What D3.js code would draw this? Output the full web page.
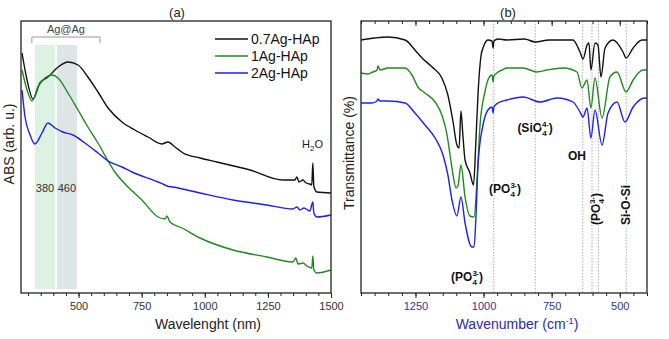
<!DOCTYPE html>
<html>
<head>
<meta charset="utf-8">
<script src="https://cdn.jsdelivr.net/npm/d3@7"></script>
<style>
body { margin: 0; background: #fff; }
svg { display: block; font-family: "Liberation Sans", Arial, sans-serif; }
</style>
</head>
<body>
<div id="chart"></div>
<script>
const width = 669, height = 339;

// (a) UV-Vis absorbance, [wavelength nm, abs arb. u.]
const uvBlack = [[276,2.40],[296,2.13],[320,1.94],[347,2.10],[379,2.16],[419,2.26],[458,2.31],[498,2.28],[537,2.16],[577,2.01],[617,1.85],[672,1.71],[723,1.63],[775,1.56],[830,1.49],[854,1.51],[882,1.46],[914,1.40],[981,1.35],[1048,1.31],[1179,1.23],[1310,1.13],[1357,1.13],[1365,1.16],[1373,1.11],[1389,1.13],[1401,1.10],[1416,1.09],[1424,1.08],[1428,1.30],[1432,1.07],[1444,1.01],[1500,1.00]];
const uvGreen = [[276,2.23],[296,2.03],[316,1.92],[339,2.06],[367,2.15],[395,2.18],[419,2.15],[458,2.00],[498,1.83],[537,1.66],[577,1.50],[617,1.32],[644,1.21],[696,1.06],[751,0.93],[815,0.76],[842,0.74],[850,0.77],[862,0.71],[910,0.65],[981,0.55],[1112,0.43],[1246,0.36],[1349,0.31],[1361,0.35],[1369,0.29],[1389,0.30],[1405,0.27],[1424,0.25],[1428,0.37],[1432,0.23],[1444,0.20],[1500,0.23]];
const uvBlue = [[276,2.03],[288,1.76],[308,1.58],[327,1.49],[355,1.60],[379,1.70],[407,1.65],[438,1.61],[478,1.58],[525,1.50],[577,1.40],[617,1.32],[672,1.26],[712,1.21],[815,1.11],[842,1.08],[850,1.07],[874,1.06],[981,1.00],[1112,0.93],[1246,0.88],[1349,0.84],[1365,0.86],[1377,0.83],[1393,0.85],[1416,0.82],[1428,0.91],[1432,0.80],[1444,0.76],[1500,0.78]];

// (b) FTIR transmittance, [wavenumber cm-1, T arb.]
const irBlack = [[1450,2.53],[1399,2.55],[1351,2.56],[1288,2.53],[1252,2.43],[1226,2.35],[1189,2.26],[1153,2.15],[1131,1.98],[1112,1.71],[1098,1.48],[1090,1.45],[1083,1.82],[1076,1.58],[1068,1.33],[1050,1.20],[1037,1.08],[1028,1.53],[1020,2.01],[1009,2.38],[1002,2.45],[984,2.53],[969,2.52],[965,2.45],[962,2.52],[947,2.54],[914,2.53],[850,2.54],[810,2.51],[760,2.53],[672,2.53],[646,2.41],[635,2.34],[620,2.48],[613,2.50],[606,2.23],[591,2.50],[580,2.48],[569,2.16],[554,2.45],[525,2.53],[488,2.41],[477,2.35],[451,2.45],[418,2.53],[400,2.53]];
const irGreen = [[1450,2.20],[1424,2.19],[1406,2.21],[1391,2.23],[1388,2.27],[1380,2.23],[1351,2.25],[1288,2.25],[1263,2.18],[1241,2.06],[1215,2.00],[1178,1.91],[1153,1.78],[1134,1.58],[1123,1.38],[1112,1.18],[1101,1.05],[1094,1.07],[1083,1.28],[1068,0.96],[1050,0.77],[1035,0.76],[1024,1.13],[1013,1.68],[995,2.01],[984,2.13],[969,2.18],[965,2.11],[962,2.17],[951,2.20],[932,2.23],[914,2.25],[855,2.25],[804,2.21],[767,2.23],[708,2.25],[657,2.21],[639,2.05],[620,2.13],[606,1.85],[591,2.15],[565,1.75],[536,2.16],[510,2.21],[477,2.01],[451,2.13],[415,2.23],[400,2.23]];
const irBlue = [[1450,1.90],[1410,1.90],[1391,1.92],[1388,1.94],[1380,1.92],[1351,1.92],[1288,1.90],[1252,1.80],[1215,1.68],[1178,1.55],[1149,1.38],[1131,1.18],[1116,0.93],[1098,0.77],[1083,0.96],[1068,0.70],[1043,0.46],[1035,0.46],[1028,0.76],[1020,1.30],[1002,1.68],[984,1.83],[969,1.86],[965,1.80],[962,1.86],[947,1.90],[914,1.93],[855,1.96],[793,1.91],[730,1.95],[672,1.91],[646,1.81],[635,1.76],[620,1.85],[606,1.55],[591,1.83],[565,1.48],[543,1.80],[510,1.91],[481,1.71],[451,1.86],[407,1.95],[400,1.95]];

const seriesNames = ["0.7Ag-HAp", "1Ag-HAp", "2Ag-HAp"];
const seriesColors = ["#111111", "#1f8a1f", "#1f1ff5"];

const uvMajor = [500, 750, 1000, 1250, 1500];
const irMajor = [1250, 1000, 750, 500];
const irBands = [963, 810, 636, 602, 578, 476];
const agBands = [[327, 407, "380", "#dcf2e3"], [414, 494, "460", "#dde5e5"]];

const svg = d3.select("#chart").append("svg")
	.attr("width", width)
	.attr("height", height);

const plotTop = 21, plotBottom = 293;

function frameAndAxes(x, major, left, right, labelColor, topTicks) {
	const minor = d3.range(Math.ceil(d3.min(x.domain()) / 50) * 50, d3.max(x.domain()) + 1, 50);
	const g = svg.append("g");
	g.append("g")
		.attr("transform", `translate(0,${plotBottom})`)
		.call(d3.axisBottom(x).tickValues(minor).tickSize(3).tickFormat(""))
		.call(a => a.select(".domain").remove());
	g.append("g")
		.attr("transform", `translate(0,${plotBottom})`)
		.call(d3.axisBottom(x).tickValues(major).tickSize(5).tickPadding(4).tickFormat(d3.format("d")))
		.call(a => a.select(".domain").remove())
		.call(a => a.selectAll("text").attr("font-size", 11).attr("fill", labelColor));
	if (topTicks) {
		g.append("g")
			.attr("transform", `translate(0,${plotTop})`)
			.call(d3.axisBottom(x).tickValues(minor).tickSize(3).tickFormat(""))
			.call(a => a.select(".domain").remove());
		g.append("g")
			.attr("transform", `translate(0,${plotTop})`)
			.call(d3.axisBottom(x).tickValues(major).tickSize(5).tickFormat(""))
			.call(a => a.select(".domain").remove());
	}
	g.selectAll("line").attr("stroke", "#222");
	g.append("rect")
		.attr("x", left).attr("y", plotTop)
		.attr("width", right - left).attr("height", plotBottom - plotTop)
		.attr("fill", "none").attr("stroke", "#222").attr("stroke-width", 1.3);
}

// ---------- panel (a)
const xa = d3.scaleLinear().domain([272, 1500]).range([21, 331]);
const ya = d3.scaleLinear().domain([0, 2.72]).range([plotBottom, plotTop]);

svg.append("g").selectAll("rect")
	.data(agBands)
	.join("rect")
	.attr("x", d => xa(d[0]))
	.attr("width", d => xa(d[1]) - xa(d[0]))
	.attr("y", 45)
	.attr("height", 289 - 45)
	.attr("fill", d => d[3]);
svg.append("g").selectAll("text")
	.data(agBands)
	.join("text")
	.attr("x", d => (xa(d[0]) + xa(d[1])) / 2)
	.attr("y", 192)
	.attr("text-anchor", "middle")
	.attr("font-size", 11)
	.attr("fill", "#333")
	.text(d => d[2]);

// Ag@Ag bracket
svg.append("path")
	.attr("d", `M${xa(315)},43V37H${xa(585)}V43`)
	.attr("fill", "none").attr("stroke", "#999").attr("stroke-width", 1);
svg.append("text")
	.attr("x", xa(450)).attr("y", 33)
	.attr("text-anchor", "middle").attr("font-size", 11).attr("fill", "#444")
	.text("Ag@Ag");

const lineA = d3.line().x(d => xa(d[0])).y(d => ya(d[1])).curve(d3.curveMonotoneX);
svg.append("g").selectAll("path")
	.data([uvBlack, uvGreen, uvBlue])
	.join("path")
	.attr("d", lineA)
	.attr("fill", "none")
	.attr("stroke", (d, i) => seriesColors[i])
	.attr("stroke-width", 1.4);

frameAndAxes(xa, uvMajor, 21, 331, "#333", false);

// legend
const leg = svg.append("g").selectAll("g")
	.data(seriesNames)
	.join("g")
	.attr("transform", (d, i) => `translate(215,${39 + i * 17})`);
leg.append("line").attr("x2", 33).attr("stroke", (d, i) => seriesColors[i]).attr("stroke-width", 1.6);
leg.append("text").attr("x", 36).attr("dy", "0.35em").attr("font-size", 14).attr("fill", "#111").text(d => d);

const h2o = svg.append("text").attr("x", 302).attr("y", 148).attr("font-size", 11).attr("fill", "#222");
h2o.append("tspan").text("H");
h2o.append("tspan").attr("font-size", 8).attr("dy", 3).text("2");
h2o.append("tspan").attr("dy", -3).text("O");

svg.append("text").attr("x", 177).attr("y", 17).attr("text-anchor", "middle").attr("font-size", 13).attr("fill", "#222").text("(a)");
svg.append("text").attr("x", 208).attr("y", 329).attr("text-anchor", "middle").attr("font-size", 14).attr("fill", "#222").text("Wavelenght (nm)");
svg.append("text").attr("transform", "translate(14,144) rotate(-90)").attr("text-anchor", "middle").attr("font-size", 14).attr("fill", "#222").text("ABS (arb. u.)");

// ---------- panel (b)
const xb = d3.scaleLinear().domain([1450, 400]).range([361, 647]);
const yb = d3.scaleLinear().domain([0, 2.72]).range([plotBottom, plotTop]);

svg.append("g").selectAll("line")
	.data(irBands)
	.join("line")
	.attr("x1", d => xb(d)).attr("x2", d => xb(d))
	.attr("y1", plotTop).attr("y2", plotBottom)
	.attr("stroke", "#aaa").attr("stroke-width", 0.9).attr("stroke-dasharray", "1.5,1.5");

const lineB = d3.line().x(d => xb(d[0])).y(d => yb(d[1])).curve(d3.curveMonotoneX);
svg.append("g").selectAll("path")
	.data([irBlack, irGreen, irBlue])
	.join("path")
	.attr("d", lineB)
	.attr("fill", "none")
	.attr("stroke", (d, i) => seriesColors[i])
	.attr("stroke-width", 1.4);

frameAndAxes(xb, irMajor, 361, 647, "#33339a", true);

function ionLabel(x, y, base, sub, sup, rotate) {
	const t = svg.append("text")
		.attr("transform", `translate(${x},${y})` + (rotate ? " rotate(-90)" : ""))
		.attr("text-anchor", "middle")
		.attr("font-size", 12).attr("font-weight", "bold").attr("fill", "#111")
		.attr("stroke", "#fff").attr("stroke-width", 3).attr("paint-order", "stroke");
	t.append("tspan").text("(" + base);
	t.append("tspan").attr("font-size", 8).attr("dy", -5).text(sup);
	t.append("tspan").attr("font-size", 8).attr("dx", -7).attr("dy", 9).text(sub);
	t.append("tspan").attr("dx", 2).attr("dy", -4).text(")");
}
ionLabel(505, 193, "PO", "4", "3-", false);
ionLabel(535, 132, "SiO", "4", "4-", false);
ionLabel(467, 281, "PO", "4", "3-", false);
ionLabel(600, 209, "PO", "4", "3-", true);
svg.append("text").attr("x", 577).attr("y", 160).attr("text-anchor", "middle")
	.attr("font-size", 12).attr("font-weight", "bold").attr("fill", "#111")
	.attr("stroke", "#fff").attr("stroke-width", 3).attr("paint-order", "stroke").text("OH");
svg.append("text").attr("transform", "translate(630,205) rotate(-90)").attr("text-anchor", "middle")
	.attr("font-size", 12).attr("font-weight", "bold").attr("fill", "#111")
	.attr("stroke", "#fff").attr("stroke-width", 3).attr("paint-order", "stroke").text("Si-O-Si");

svg.append("text").attr("x", 508).attr("y", 17).attr("text-anchor", "middle").attr("font-size", 13).attr("fill", "#222").text("(b)");
const wn = svg.append("text").attr("x", 517).attr("y", 329).attr("text-anchor", "middle").attr("font-size", 14).attr("fill", "#2a2ab0");
wn.append("tspan").text("Wavenumber (cm");
wn.append("tspan").attr("font-size", 9).attr("dy", -5).text("-1");
wn.append("tspan").attr("dy", 5).text(")");
svg.append("text").attr("transform", "translate(354,153) rotate(-90)").attr("text-anchor", "middle").attr("font-size", 14).attr("fill", "#222").text("Transmittance (%)");
</script>
</body>
</html>
